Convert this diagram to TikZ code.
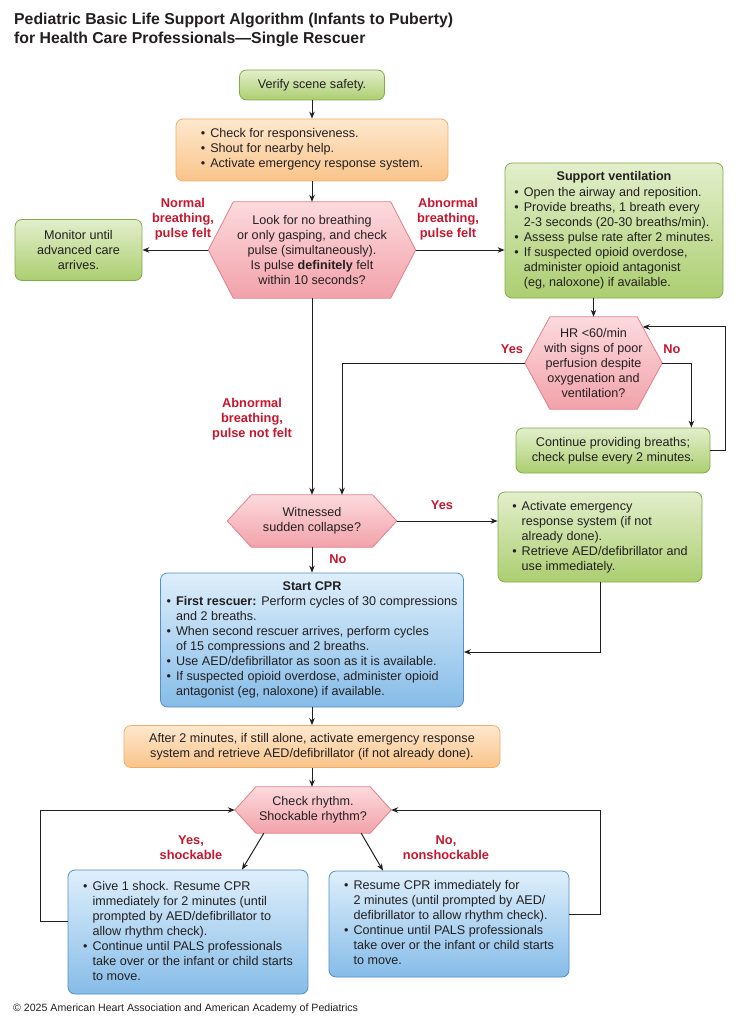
\documentclass[tikz,border=0pt]{standalone}
\usepackage{fontspec}
\setmainfont{Liberation Sans}
\usepackage{xcolor}
\usepackage{tikz}
\usetikzlibrary{arrows.meta,calc,backgrounds}

\definecolor{grntop}{RGB}{226,239,204}
\definecolor{grnbot}{RGB}{172,206,112}
\definecolor{grnline}{RGB}{128,172,72}
\definecolor{orgtop}{RGB}{254,232,206}
\definecolor{orgbot}{RGB}{249,196,138}
\definecolor{orgline}{RGB}{240,172,104}
\definecolor{pnktop}{RGB}{252,218,221}
\definecolor{pnkbot}{RGB}{242,162,170}
\definecolor{pnkline}{RGB}{226,128,138}
\definecolor{blutop}{RGB}{222,239,251}
\definecolor{blubot}{RGB}{134,188,232}
\definecolor{bluline}{RGB}{82,142,200}
\definecolor{ansred}{RGB}{200,22,46}
\definecolor{inkgray}{RGB}{35,31,32}

\newcommand{\ttlfont}{\fontsize{15.8}{19}\selectfont\bfseries}
\newcommand{\boxfont}{\fontsize{12.6}{15}\selectfont}
\newcommand{\ansfont}{\fontsize{12.8}{15}\selectfont\bfseries}
\newcommand{\ftnfont}{\fontsize{10.6}{12}\selectfont}

% pink hexagon behind a text node, #2 = depth of the side points
\newcommand{\hexback}[2]{%
  \path[pinkhex] ([xshift=#2]#1.north west) -- ([xshift=-#2]#1.north east)
    -- (#1.east) -- ([xshift=-#2]#1.south east) -- ([xshift=#2]#1.south west)
    -- (#1.west) -- cycle;}

\tikzset{
  flowbox/.style={draw, rounded corners=7pt, line width=0.8pt, align=center,
    inner sep=0pt, font=\boxfont, text=inkgray},
  greenbox/.style={flowbox, draw=grnline, top color=grntop, bottom color=grnbot},
  orangebox/.style={flowbox, draw=orgline, top color=orgtop, bottom color=orgbot},
  bluebox/.style={flowbox, draw=bluline, top color=blutop, bottom color=blubot},
  hextext/.style={inner sep=0pt, align=center, font=\boxfont, text=inkgray},
  pinkhex/.style={draw=pnkline, line width=0.8pt, top color=pnktop, bottom color=pnkbot},
  flowarrow/.style={line width=1pt, draw=inkgray, -{Stealth[length=7pt,width=5.5pt]}},
  answerlabel/.style={text=ansred, font=\ansfont, align=center, inner sep=0pt},
}

\begin{document}
\begin{tikzpicture}[x=1pt,y=-1pt]
\useasboundingbox (0,0) rectangle (743,1024);

% title
\node[anchor=north west, align=left, font=\ttlfont, text=inkgray, inner sep=0pt] (title) at (14,13)
  {Pediatric Basic Life Support Algorithm (Infants to Puberty)\\for Health Care Professionals—Single Rescuer};

% boxes
\node[greenbox, minimum width=145pt, minimum height=30pt] (verify) at (312,85) {Verify scene safety.};

\node[orangebox, minimum width=272pt, minimum height=62pt] (check) at (312,150) {%
  \begin{tabular}{@{}l@{\hspace{5pt}}l@{}}
  \textbullet & Check for responsiveness.\\
  \textbullet & Shout for nearby help.\\
  \textbullet & Activate emergency response system.
  \end{tabular}};

\node[hextext, minimum width=207pt, minimum height=96pt] (look) at (312,250)
  {Look for no breathing\\or only gasping, and check\\pulse (simultaneously).\\Is pulse \textbf{definitely} felt\\within 10 seconds?};

\node[greenbox, minimum width=127pt, minimum height=61pt] (monitor) at (78.5,250) {Monitor until\\advanced care\\arrives.};

\node[greenbox, minimum width=218pt, minimum height=135pt] (support) at (614,230.5) {%
  \begin{tabular}{@{}l@{\hspace{5pt}}l@{}}
  \multicolumn{2}{c}{\textbf{Support ventilation}}\\
  \textbullet & Open the airway and reposition.\\
  \textbullet & Provide breaths, 1 breath every\\
              & 2-3 seconds (20-30 breaths/min).\\
  \textbullet & Assess pulse rate after 2 minutes.\\
  \textbullet & If suspected opioid overdose,\\
              & administer opioid antagonist\\
              & (eg, naloxone) if available.
  \end{tabular}};

\node[hextext, minimum width=137pt, minimum height=92pt] (hr) at (593.5,363)
  {HR <60/min\\with signs of poor\\perfusion despite\\oxygenation and\\ventilation?};

\node[greenbox, minimum width=194pt, minimum height=45pt] (cont) at (613,450.5)
  {Continue providing breaths;\\check pulse every 2 minutes.};

\node[hextext, minimum width=169pt, minimum height=52pt] (witness) at (312,521) {Witnessed\\sudden collapse?};

\node[greenbox, minimum width=204pt, minimum height=90pt] (activate) at (600,537) {%
  \begin{tabular}{@{}l@{\hspace{5pt}}l@{}}
  \textbullet & Activate emergency\\
              & response system (if not\\
              & already done).\\
  \textbullet & Retrieve AED/defibrillator and\\
              & use immediately.
  \end{tabular}};

\node[bluebox, minimum width=303pt, minimum height=134pt] (cpr) at (312,640) {%
  \begin{tabular}{@{}l@{\hspace{5pt}}l@{}}
  \multicolumn{2}{c}{\textbf{Start CPR}}\\
  \textbullet & \textbf{First rescuer:} Perform cycles of 30 compressions\\
              & and 2 breaths.\\
  \textbullet & When second rescuer arrives, perform cycles\\
              & of 15 compressions and 2 breaths.\\
  \textbullet & Use AED/defibrillator as soon as it is available.\\
  \textbullet & If suspected opioid overdose, administer opioid\\
              & antagonist (eg, naloxone) if available.
  \end{tabular}};

\node[orangebox, minimum width=376pt, minimum height=42pt] (alone) at (312,746.5)
  {After 2 minutes, if still alone, activate emergency response\\system and retrieve AED/defibrillator (if not already done).};

\node[hextext, minimum width=156pt, minimum height=46pt] (rhythm) at (313,810) {Check rhythm.\\Shockable rhythm?};

\node[bluebox, minimum width=240pt, minimum height=124pt] (shock) at (188,932) {%
  \begin{tabular}{@{}l@{\hspace{5pt}}l@{}}
  \textbullet & Give 1 shock. Resume CPR\\
              & immediately for 2 minutes (until\\
              & prompted by AED/defibrillator to\\
              & allow rhythm check).\\
  \textbullet & Continue until PALS professionals\\
              & take over or the infant or child starts\\
              & to move.
  \end{tabular}};

\node[bluebox, minimum width=240pt, minimum height=106pt] (noshock) at (449,924) {%
  \begin{tabular}{@{}l@{\hspace{5pt}}l@{}}
  \textbullet & Resume CPR immediately for\\
              & 2 minutes (until prompted by AED/\\
              & defibrillator to allow rhythm check).\\
  \textbullet & Continue until PALS professionals\\
              & take over or the infant or child starts\\
              & to move.
  \end{tabular}};

% hexagons
\begin{scope}[on background layer]
  \hexback{look}{25pt}
  \hexback{hr}{25pt}
  \hexback{witness}{24pt}
  \hexback{rhythm}{21pt}
\end{scope}

% answers
\node[answerlabel] (normal) at (183,219) {Normal\\breathing,\\pulse felt};
\node[answerlabel] (abnormal) at (448,219) {Abnormal\\breathing,\\pulse felt};
\node[answerlabel] (hryes) at (512,349) {Yes};
\node[answerlabel] (hrno) at (672,349) {No};
\node[answerlabel] (nopulse) at (252,419) {Abnormal\\breathing,\\pulse not felt};
\node[answerlabel] (wityes) at (442,505) {Yes};
\node[answerlabel] (witno) at (338,559) {No};
\node[answerlabel] (shockyes) at (191,848) {Yes,\\shockable};
\node[answerlabel] (shockno) at (446,848) {No,\\nonshockable};

% connectors
\draw[flowarrow] (verify.south) -- (check.north);
\draw[flowarrow] (check.south) -- (look.north);
\draw[flowarrow] (look.west) -- (monitor.east);
\draw[flowarrow] (look.east) -- (look.east -| support.west);
\draw[flowarrow] (support.south -| hr.north) -- (hr.north);
\draw[flowarrow] (hr.east) -| ([xshift=-19pt]cont.north east);
\draw[flowarrow] (cont.east) -- ++(15,0) |- ($([xshift=-25pt]hr.north east)!0.22!(hr.east)$);
\draw[flowarrow] (hr.west) -| ([xshift=30pt]witness.north);
\draw[flowarrow] (look.south) -- (witness.north);
\draw[flowarrow] (witness.east) -- (witness.east -| activate.west);
\draw[flowarrow] (activate.south) |- ([yshift=-12pt]cpr.east);
\draw[flowarrow] (witness.south) -- (cpr.north);
\draw[flowarrow] (cpr.south) -- (alone.north);
\draw[flowarrow] (alone.south) -- (rhythm.north -| alone.south);
\draw[flowarrow] ([xshift=29pt]rhythm.south west) -- ([xshift=54pt]shock.north);
\draw[flowarrow] ([xshift=-30pt]rhythm.south east) -- ([xshift=-66pt]noshock.north);
\draw[flowarrow] ([yshift=11pt]shock.west) -- ++(-27,0) |- (rhythm.west);
\draw[flowarrow] ([yshift=10pt]noshock.east) -- ++(31,0) |- (rhythm.east);

% footer
\node[anchor=west, font=\ftnfont, text=inkgray, inner sep=0pt] (copyright) at (13,1009)
  {© 2025 American Heart Association and American Academy of Pediatrics};
\end{tikzpicture}
\end{document}
